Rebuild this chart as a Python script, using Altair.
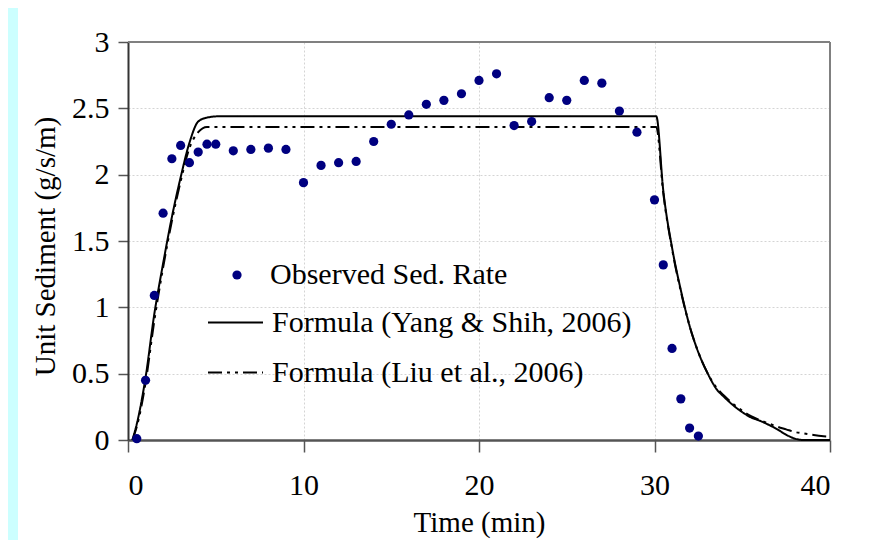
import altair as alt
import pandas as pd

SERIF = "Liberation Serif"

# Observed sediment rate
obs_t = [0.5, 1, 1.5, 2, 2.5, 3, 3.5, 4, 4.5, 5,
         6, 7, 8, 9, 10, 11, 12, 13, 14, 15,
         16, 17, 18, 19, 20, 21, 22, 23, 24, 25,
         26, 27, 28, 29, 30, 30.5, 31, 31.5, 32, 32.5]
obs_v = [0.01, 0.45, 1.09, 1.71, 2.12, 2.22, 2.09, 2.17, 2.23, 2.23,
         2.18, 2.19, 2.20, 2.19, 1.94, 2.07, 2.09, 2.10, 2.25, 2.38,
         2.45, 2.53, 2.56, 2.61, 2.71, 2.76, 2.37, 2.40, 2.58, 2.56,
         2.71, 2.69, 2.48, 2.32, 1.81, 1.32, 0.69, 0.31, 0.09, 0.03]

# Formula (Yang & Shih, 2006)
yang_t = [0.25, 0.5, 1.0, 1.5, 2.0, 2.5, 3.0, 3.5, 4.0, 4.5, 5.2, 30.1, 30.5, 31.0,
          31.5, 32.0, 32.5, 33.0, 33.5, 34.0, 34.5, 35.0, 35.5, 36.0, 36.5, 37.0,
          37.5, 38.0, 38.5, 40.0]
yang_v = [0, 0.12, 0.47, 0.95, 1.33, 1.68, 1.98, 2.24, 2.40, 2.43, 2.44, 2.44, 1.88, 1.45,
          1.13, 0.86, 0.66, 0.51, 0.39, 0.32, 0.26, 0.21, 0.17, 0.145, 0.115, 0.08,
          0.04, 0.01, 0, 0]

# Formula (Liu et al., 2006)
liu_t = [0.25, 0.5, 1.0, 1.5, 2.0, 2.5, 3.0, 3.5, 4.0, 4.5, 30.1, 30.5, 31.0, 31.5,
         32.0, 32.5, 33.0, 33.5, 34.0, 34.5, 35.0, 35.5, 36.0, 36.5, 37.0, 37.5,
         38.0, 38.5, 39.0, 39.5, 40.0]
liu_v = [0, 0.10, 0.43, 0.90, 1.30, 1.65, 1.95, 2.20, 2.32, 2.36, 2.36, 1.86, 1.44, 1.12,
         0.86, 0.66, 0.51, 0.40, 0.33, 0.27, 0.22, 0.18, 0.15, 0.125, 0.10, 0.08,
         0.06, 0.05, 0.04, 0.03, 0.025]

obs_label = "Observed Sed. Rate"
yang_label = "Formula (Yang & Shih, 2006)"
liu_label = "Formula (Liu et al., 2006)"

x_ticks = [0, 10, 20, 30, 40]
y_ticks = [0, 0.5, 1, 1.5, 2, 2.5, 3]

obs_df = pd.DataFrame({"t": obs_t, "v": obs_v, "series": obs_label})
lines_df = pd.concat([
    pd.DataFrame({"t": yang_t, "v": yang_v, "model": yang_label}),
    pd.DataFrame({"t": liu_t, "v": liu_v, "model": liu_label}),
], ignore_index=True)

x_scale = alt.Scale(domain=[0, 40], nice=False, zero=False)
y_scale = alt.Scale(domain=[0, 3], nice=False, zero=False)

x_axis = alt.Axis(
    values=x_ticks, format="d", labelFont=SERIF, labelFontSize=30, labelColor="black",
    labelPadding=18, tickSize=12, tickColor="#555555", tickWidth=1.5,
    domainColor="#555555", domainWidth=2.5,
    grid=True, gridColor="#d4d4d4", gridDash=[2, 2], gridWidth=1,
    title="Time (min)", titleFont=SERIF, titleFontSize=29, titleFontWeight="normal",
    titleColor="black", titleX=351, titleY=82, titleAlign="center", titleBaseline="middle",
)
y_axis = alt.Axis(
    values=y_ticks, format="~g", labelFont=SERIF, labelFontSize=30, labelColor="black",
    labelPadding=9, tickSize=10, tickColor="#555555", tickWidth=1.5,
    domainColor="#333333", domainWidth=2,
    grid=True, gridColor="#d4d4d4", gridDash=[2, 2], gridWidth=1,
    title="Unit Sediment (g/s/m)", titleFont=SERIF, titleFontSize=29, titleFontWeight="normal",
    titleColor="black", titleX=-83, titleY=204, titleAlign="center", titleBaseline="middle",
)

strip = alt.Chart(pd.DataFrame({"a": [0]})).mark_rect(color="#ccffff").encode(
    x=alt.value(-120), x2=alt.value(-110), y=alt.value(-34), y2=alt.value(498)
)

frame_top = alt.Chart(pd.DataFrame({"x0": [0], "x1": [40], "y": [3]})).mark_rule(
    color="#808080", strokeWidth=2
).encode(x=alt.X("x0:Q", scale=x_scale, axis=x_axis), x2="x1:Q",
         y=alt.Y("y:Q", scale=y_scale, axis=y_axis))
frame_right = alt.Chart(pd.DataFrame({"x": [40], "y0": [0], "y1": [3]})).mark_rule(
    color="#808080", strokeWidth=2
).encode(x=alt.X("x:Q", scale=x_scale, axis=x_axis),
         y=alt.Y("y0:Q", scale=y_scale, axis=y_axis), y2="y1:Q")

dash_range = [[1, 0], [14, 5, 3, 5, 3, 5]]

lines = alt.Chart(lines_df).mark_line(color="black", strokeWidth=2, interpolate="monotone").encode(
    x=alt.X("t:Q", scale=x_scale, axis=x_axis),
    y=alt.Y("v:Q", scale=y_scale, axis=y_axis),
    strokeDash=alt.StrokeDash(
        "model:N",
        scale=alt.Scale(domain=[yang_label, liu_label], range=dash_range),
        legend=alt.Legend(
            title=None, orient="none", legendX=79, legendY=252, padding=0,
            symbolType="stroke", symbolSize=3025, symbolStrokeColor="black", symbolStrokeWidth=2,
            labelFont=SERIF, labelFontSize=30, labelColor="black", labelOffset=8,
            rowPadding=6, labelLimit=600,
        ),
    ),
)

points = alt.Chart(obs_df).mark_point(filled=True, size=85, opacity=1).encode(
    x=alt.X("t:Q", scale=x_scale, axis=x_axis),
    y=alt.Y("v:Q", scale=y_scale, axis=y_axis),
    color=alt.Color(
        "series:N",
        scale=alt.Scale(domain=[obs_label], range=["#000080"]),
        legend=alt.Legend(
            title=None, orient="none", legendX=94, legendY=218, padding=0,
            symbolType="circle", symbolSize=85, symbolOpacity=1,
            labelFont=SERIF, labelFontSize=30, labelColor="black", labelOffset=18,
            labelLimit=600,
        ),
    ),
)

chart = alt.layer(strip, frame_top, frame_right, lines, points).properties(
    width=702, height=398,
    autosize=alt.AutoSizeParams(type="none"),
    padding={"left": 120, "top": 34, "right": 37, "bottom": 100},
    background="white",
).configure_view(stroke=None).configure_axis(
    labelFont=SERIF, titleFont=SERIF
).configure_legend(labelFont=SERIF)

chart.save("out.html", embed_options={"renderer": "svg", "actions": False})
